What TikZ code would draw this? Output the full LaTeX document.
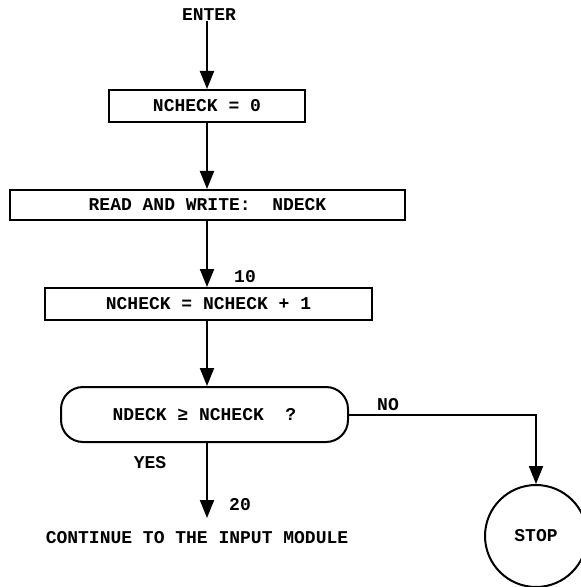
\documentclass[tikz,border=0pt]{standalone}
\usepackage{fontspec}
\setmonofont{Liberation Mono}
\usetikzlibrary{arrows.meta,positioning}
\newcommand{\fcfont}{\ttfamily\bfseries\fontsize{9}{10}\selectfont}
\tikzset{
  flowbox/.style={draw, line width=1pt, inner sep=0pt, font=\fcfont},
  flowline/.style={line width=1pt, -{Triangle[width=7pt,length=9pt]}},
  tag/.style={inner sep=0pt, font=\fcfont},
}

\begin{document}
\begin{tikzpicture}[x=0.5pt,y=-0.5pt]
\useasboundingbox (0,0) rectangle (580,587);
\coordinate (trunk) at (207,0);
\coordinate (yesend) at (207,518);

\node[tag] (enter) at (209,15) {ENTER};
\node[flowbox, minimum width=98pt, minimum height=16pt] (init) at (207,106) {\raisebox{-5pt}{NCHECK = 0}};
\node[flowbox, minimum width=197.5pt, minimum height=15pt] (readnd) at (207.5,205) {READ AND WRITE:\ \ NDECK};
\node[flowbox, minimum width=163.5pt, minimum height=16pt] (incr) at (208.5,304) {NCHECK = NCHECK + 1};
\node[flowbox, rounded corners=11pt, minimum width=143.5pt, minimum height=27.5pt] (test) at (204.5,414.5) {NDECK ≥ NCHECK\ \ ?};
\node[flowbox, circle, minimum size=51pt] (stop) at (536,536) {STOP};
\node[tag] (cont) at (197,538) {CONTINUE TO THE INPUT MODULE};

% labels
\node[tag] (ten) at (245,277) {10};
\node[tag] (twenty) at (240,505) {20};
\node[tag] (yes) at (150,463) {YES};
\node[tag] (no) at (388,405) {NO};

% flow lines
\draw[flowline] (enter.south -| trunk) -- (trunk |- init.north);
\draw[flowline] (trunk |- init.south) -- (trunk |- readnd.north);
\draw[flowline] (trunk |- readnd.south) -- (trunk |- incr.north);
\draw[flowline] (trunk |- incr.south) -- (trunk |- test.north);
\draw[flowline] (trunk |- test.south) -- (yesend);
\draw[flowline] (test.east) -| (stop.north);

\end{tikzpicture}
\end{document}
